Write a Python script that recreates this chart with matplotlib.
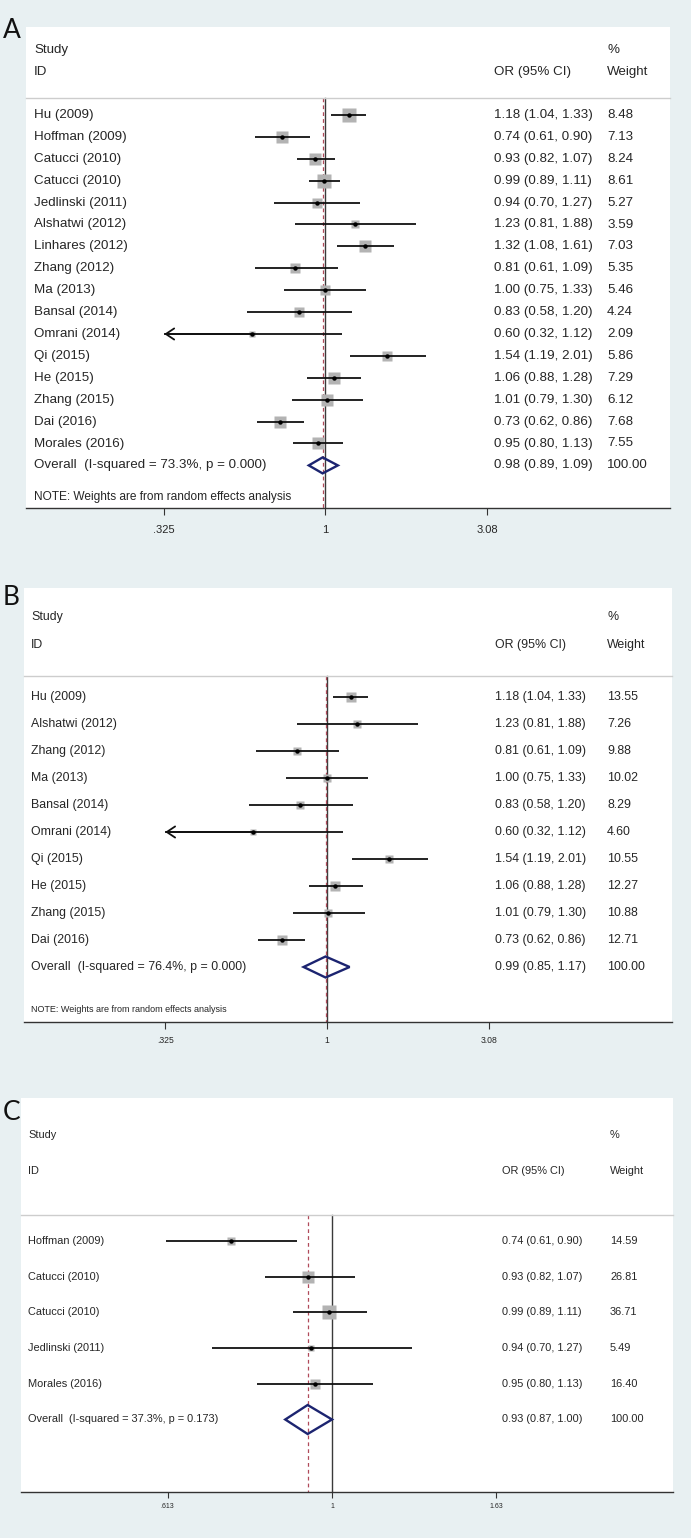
import numpy as np
import matplotlib
matplotlib.use("Agg")
import matplotlib.pyplot as plt
from matplotlib import transforms
from matplotlib.patches import Polygon
from matplotlib.ticker import NullLocator

plt.rcParams['font.family'] = ['Liberation Sans', 'DejaVu Sans']

# ---- panel A: all studies ----
a_study = ["Hu (2009)", "Hoffman (2009)", "Catucci (2010)", "Catucci (2010)", "Jedlinski (2011)",
           "Alshatwi (2012)", "Linhares (2012)", "Zhang (2012)", "Ma (2013)", "Bansal (2014)",
           "Omrani (2014)", "Qi (2015)", "He (2015)", "Zhang (2015)", "Dai (2016)", "Morales (2016)"]
a_or = [1.18, 0.74, 0.93, 0.99, 0.94, 1.23, 1.32, 0.81, 1.00, 0.83, 0.60, 1.54, 1.06, 1.01, 0.73, 0.95]
a_lo = [1.04, 0.61, 0.82, 0.89, 0.70, 0.81, 1.08, 0.61, 0.75, 0.58, 0.32, 1.19, 0.88, 0.79, 0.62, 0.80]
a_hi = [1.33, 0.90, 1.07, 1.11, 1.27, 1.88, 1.61, 1.09, 1.33, 1.20, 1.12, 2.01, 1.28, 1.30, 0.86, 1.13]
a_wt = [8.48, 7.13, 8.24, 8.61, 5.27, 3.59, 7.03, 5.35, 5.46, 4.24, 2.09, 5.86, 7.29, 6.12, 7.68, 7.55]
a_overall = [0.98, 0.89, 1.09]
a_isq, a_p = "73.3%", "0.000"

# ---- panel B ----
b_study = ["Hu (2009)", "Alshatwi (2012)", "Zhang (2012)", "Ma (2013)", "Bansal (2014)",
           "Omrani (2014)", "Qi (2015)", "He (2015)", "Zhang (2015)", "Dai (2016)"]
b_or = [1.18, 1.23, 0.81, 1.00, 0.83, 0.60, 1.54, 1.06, 1.01, 0.73]
b_lo = [1.04, 0.81, 0.61, 0.75, 0.58, 0.32, 1.19, 0.88, 0.79, 0.62]
b_hi = [1.33, 1.88, 1.09, 1.33, 1.20, 1.12, 2.01, 1.28, 1.30, 0.86]
b_wt = [13.55, 7.26, 9.88, 10.02, 8.29, 4.60, 10.55, 12.27, 10.88, 12.71]
b_overall = [0.99, 0.85, 1.17]
b_isq, b_p = "76.4%", "0.000"

# ---- panel C ----
c_study = ["Hoffman (2009)", "Catucci (2010)", "Catucci (2010)", "Jedlinski (2011)", "Morales (2016)"]
c_or = [0.74, 0.93, 0.99, 0.94, 0.95]
c_lo = [0.61, 0.82, 0.89, 0.70, 0.80]
c_hi = [0.90, 1.07, 1.11, 1.27, 1.13]
c_wt = [14.59, 26.81, 36.71, 5.49, 16.40]
c_overall = [0.93, 0.87, 1.00]
c_isq, c_p = "37.3%", "0.173"

a_ticks, a_ticklabels = [0.325, 1, 3.08], [".325", "1", "3.08"]
b_ticks, b_ticklabels = [0.325, 1, 3.08], [".325", "1", "3.08"]
c_ticks, c_ticklabels = [0.613, 1, 1.63], [".613", "1", "1.63"]

W, H = 691, 1538
BG = '#e8f0f2'
INK = '#262626'

fig = plt.figure(figsize=(W / 100, H / 100), dpi=100, facecolor=BG)


def forest(study, est, lo, hi, wt, overall, isq, p, ticks, ticklabels, lay, letter):
    x0, x1, top, base = lay['box']
    ax = fig.add_axes([x0 / W, 1 - base / H, (x1 - x0) / W, (base - top) / H])
    ax.set_facecolor('white')
    ax.set_xscale('log')
    one, k = lay['one'], lay['k']
    ax.set_xlim(np.exp((x0 - one) / k), np.exp((x1 - one) / k))
    ax.set_ylim(base, top)
    for s in ['top', 'left', 'right']:
        ax.spines[s].set_visible(False)
    ax.spines['bottom'].set_color('#333333')
    ax.spines['bottom'].set_linewidth(1.0)
    ax.set_yticks([])
    ax.set_xticks(ticks)
    ax.set_xticklabels(ticklabels)
    ax.xaxis.set_minor_locator(NullLocator())
    ax.tick_params(axis='x', length=lay['tick_len'], width=0.8, color='#333333',
                   labelsize=lay['tick_fs'], labelcolor=INK, pad=lay['tick_pad'])

    trans = transforms.blended_transform_factory(ax.transAxes, ax.transData)
    xf = lambda px: (px - x0) / (x1 - x0)
    fs = lay['fs']

    # header
    ax.text(xf(lay['lab_x']), lay['y_study'], "Study", transform=trans, fontsize=fs, color=INK, va='center')
    ax.text(xf(lay['lab_x']), lay['y_id'], "ID", transform=trans, fontsize=fs, color=INK, va='center')
    ax.text(xf(lay['or_x']), lay['y_id'], "OR (95% CI)", transform=trans, fontsize=fs, color=INK, va='center')
    ax.text(xf(lay['wt_x']), lay['y_study'], "%", transform=trans, fontsize=fs, color=INK, va='center')
    ax.text(xf(lay['wt_x']), lay['y_id'], "Weight", transform=trans, fontsize=fs, color=INK, va='center')
    sep = lay['sep']
    ax.plot([0, 1], [sep, sep], transform=trans, color='#cdcdcd', lw=1.0, clip_on=False)

    n = len(study)
    ys = lay['y0'] + lay['dy'] * np.arange(n + 1)

    # reference lines
    ax.plot([1, 1], [sep, base], color='#3a3a3a', lw=1.0, zorder=1)
    ax.plot([overall[0]] * 2, [sep, base], color='#b04a5a', lw=0.9, ls=(0, (3, 2.5)), zorder=1)

    cmin, cmax = lay['clip']
    for i in range(n):
        y = ys[i]
        side = lay['box_k'] * np.sqrt(wt[i])
        ax.plot(est[i], y, marker='s', ms=side * 0.72, color='#b3b3b3', mec='none', zorder=2)
        l, h = max(lo[i], cmin), min(hi[i], cmax)
        ax.plot([l, h], [y, y], color='#111111', lw=1.3, zorder=3, solid_capstyle='butt')
        if lo[i] < cmin:
            ax.annotate('', xy=(cmin, y), xytext=(est[i], y),
                        arrowprops=dict(arrowstyle='->,head_length=0.6,head_width=0.4',
                                        color='#111111', lw=1.3, shrinkA=0, shrinkB=0), zorder=3)
        ax.plot(est[i], y, marker='o', ms=3.2, color='#000000', mec='none', zorder=4)
        ax.text(xf(lay['lab_x']), y, study[i], transform=trans, fontsize=fs, color=INK, va='center')
        ax.text(xf(lay['or_x']), y, f"{est[i]:.2f} ({lo[i]:.2f}, {hi[i]:.2f})", transform=trans,
                fontsize=fs, color=INK, va='center')
        ax.text(xf(lay['wt_x']), y, f"{wt[i]:.2f}", transform=trans, fontsize=fs, color=INK, va='center')

    # overall diamond
    y = ys[n]
    hd = lay['diam_h'] / 2
    e, l, h = overall
    ax.add_patch(Polygon([[l, y], [e, y - hd], [h, y], [e, y + hd]], closed=True, fill=False,
                         ec='#1c2470', lw=1.7, zorder=5))
    ax.text(xf(lay['lab_x']), y, f"Overall  (I-squared = {isq}, p = {p})", transform=trans,
            fontsize=fs, color=INK, va='center')
    ax.text(xf(lay['or_x']), y, f"{e:.2f} ({l:.2f}, {h:.2f})", transform=trans,
            fontsize=fs, color=INK, va='center')
    ax.text(xf(lay['wt_x']), y, "100.00", transform=trans, fontsize=fs, color=INK, va='center')

    if lay.get('note_y'):
        ax.text(xf(lay['lab_x']), lay['note_y'], "NOTE: Weights are from random effects analysis",
                transform=trans, fontsize=lay['note_fs'], color=INK, va='center')

    fig.text(3 / W, 1 - lay['letter_y'] / H, letter, fontsize=19, family=['Lato', 'DejaVu Sans'],
             color='#111111', va='center', ha='left')
    return ax


lay_a = dict(box=(26, 670, 27, 508), one=325.5, k=143.5, clip=(0.325, 3.08), sep=98,
             y_study=50, y_id=72, y0=115, dy=21.9, note_y=497, note_fs=8.6, lab_x=34, or_x=494,
             wt_x=607, fs=9.6, tick_fs=8.0, tick_len=5, tick_pad=7, box_k=4.5, diam_h=16, letter_y=31)
lay_b = dict(box=(24, 672, 588, 1022), one=327, k=144, clip=(0.325, 3.08), sep=676,
             y_study=617, y_id=645, y0=697, dy=27.0, note_y=1009, note_fs=6.5, lab_x=31, or_x=495,
             wt_x=607, fs=8.9, tick_fs=6.2, tick_len=5, tick_pad=5, box_k=2.7, diam_h=21, letter_y=598)
lay_c = dict(box=(21, 673, 1098, 1492), one=332, k=335.7, clip=(0.60, 1.66), sep=1215,
             y_study=1135, y_id=1171, y0=1241, dy=35.7, lab_x=28, or_x=502, wt_x=610, fs=7.9,
             tick_fs=5.0, tick_len=4, tick_pad=4, box_k=2.3, diam_h=29, letter_y=1112)

forest(a_study, a_or, a_lo, a_hi, a_wt, a_overall, a_isq, a_p, a_ticks, a_ticklabels, lay_a, "A")
forest(b_study, b_or, b_lo, b_hi, b_wt, b_overall, b_isq, b_p, b_ticks, b_ticklabels, lay_b, "B")
forest(c_study, c_or, c_lo, c_hi, c_wt, c_overall, c_isq, c_p, c_ticks, c_ticklabels, lay_c, "C")

fig.savefig("out.png", dpi=100, facecolor=BG)
